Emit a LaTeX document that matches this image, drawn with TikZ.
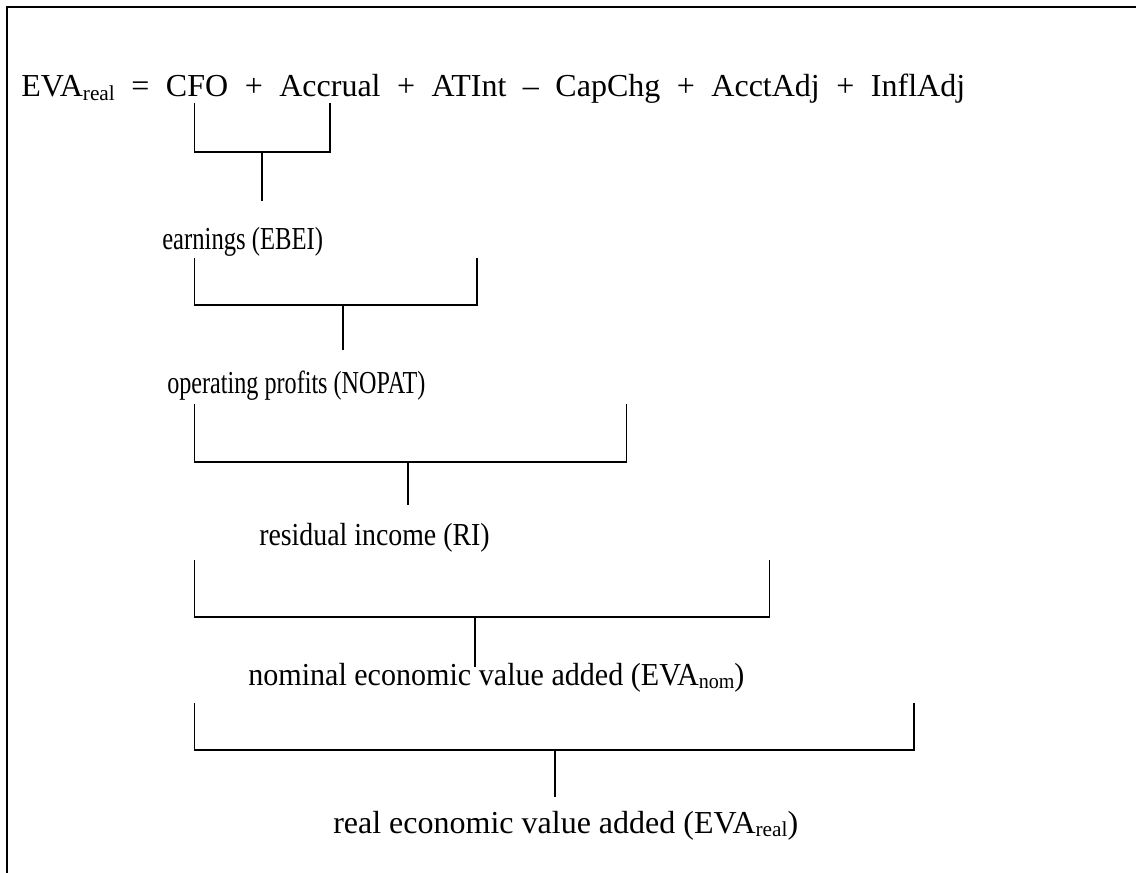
\documentclass[tikz,border=0pt]{standalone}
\usepackage{fontspec}
\setmainfont{Liberation Serif}
\usetikzlibrary{positioning}
\newcommand{\lowtext}[1]{\raisebox{-2.5pt}{\fontsize{16}{16}\selectfont #1}}

\begin{document}
\begin{tikzpicture}[x=0.75pt, y=-0.75pt,
  term/.style={inner sep=0pt, font=\fontsize{24}{28}\selectfont},
  lbl/.style={term, anchor=base west},
  brk/.style={line width=1pt},
  frame/.style={line width=1.5pt},
  node distance=12pt,
]
  \useasboundingbox (0,0) rectangle (1136,873);
  \draw[frame] (1136,7) -- (7,7) -- (7,873);

  % the equation, term by term
  \node[lbl] (eva) at (21,97) {EVA\lowtext{real}};
  \node[term, base right=of eva] (eq) {=};
  \node[term, base right=of eq] (cfo) {CFO};
  \node[term, base right=of cfo] (p1) {+};
  \node[term, base right=of p1] (accrual) {Accrual};
  \node[term, base right=of accrual] (p2) {+};
  \node[term, base right=of p2] (atint) {ATInt};
  \node[term, base right=of atint] (m1) {--};
  \node[term, base right=of m1] (capchg) {CapChg};
  \node[term, base right=of capchg] (p3) {+};
  \node[term, base right=of p3] (acctadj) {AcctAdj};
  \node[term, base right=of acctadj] (p4) {+};
  \node[term, base right=of p4] (infladj) {InflAdj};

  % partial sums (narrowed as in the source)
  \node[lbl] (ebei) at (162,250) {\scalebox{0.77}[1]{earnings (EBEI)}};
  \node[lbl] (nopat) at (167,394) {\scalebox{0.755}[1]{operating profits (NOPAT)}};
  \node[lbl] (ri) at (259,546) {\scalebox{0.87}[1]{residual income (RI)}};
  \node[lbl] (evanom) at (248,685) {\scalebox{0.94}[1]{nominal economic value added (EVA\lowtext{nom})}};
  \node[lbl] (evareal) at (333,833) {real economic value added (EVA\lowtext{real})};

  % brackets from CFO to each further term
  \foreach \rt/\dx/\ya/\yb/\sx/\yc in {accrual/0/103/152/262/201, atint/6/258/305/343/350,
      capchg/14/404/462/408/505, acctadj/3/560/617/475/667, infladj/-3/703/750/555/797}
  {
    \draw[brk] ([xshift=-2]cfo.center |- 0,\ya) -- ([xshift=-2]cfo.center |- 0,\yb)
      -- ([xshift=\dx]\rt.center |- 0,\yb) -- ([xshift=\dx]\rt.center |- 0,\ya);
    \draw[brk] (\sx,\yb) -- (\sx,\yc);
  }
\end{tikzpicture}
\end{document}
